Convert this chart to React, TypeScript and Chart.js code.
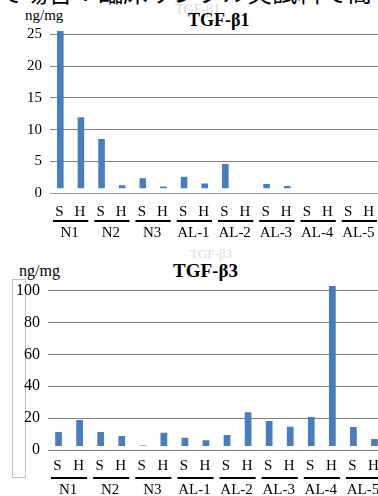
import React, { useEffect, useRef } from "react";
import { Chart, registerables } from "chart.js";

Chart.register(...registerables);

const groups = ["N1", "N2", "N3", "AL-1", "AL-2", "AL-3", "AL-4", "AL-5"];
const subLabels = ["S", "H"];
const tgfb1Values = [25.5, 11.95, 8.55, 1.25, 2.35, 1.05, 2.6, 1.55, 4.6, null, 1.45, 1.15, null, null, null, null];
const tgfb3Values = [11.3, 18.8, 11.3, 8.8, 2.8, 10.9, 7.7, 6.1, 9.4, 23.7, 18.2, 14.6, 20.7, 103, 14.4, 6.9];
const tgfb1Base = 0.8;
const tgfb3Base = 2.5;
const tgfb1Ticks = [0, 5, 10, 15, 20, 25];
const tgfb3Ticks = [0, 20, 40, 60, 80, 100];

const labels = groups.flatMap((g) => subLabels.map((s) => `${g} ${s}`));

const serif = "'Liberation Serif', 'Times New Roman', 'DejaVu Serif', serif";

type Cfg = {
  values: (number | null)[];
  base: number;
  max: number;
  step: number;
  width: number;
  height: number;
  padTop: number;
  padBottom: number;
  yWidth: number;
  tickSize: number;
  subY: number;
  lineY: number;
  groupY: number;
  zeroColor: string;
};

function makeLabelPlugin(cfg: Cfg) {
  return {
    id: "groupLabels",
    afterDraw(chart: any) {
      const ctx = chart.ctx;
      const xs = chart.scales.x;
      const half = (xs.getPixelForValue(1) - xs.getPixelForValue(0)) / 2;
      ctx.save();
      ctx.fillStyle = "#000";
      ctx.strokeStyle = "#000";
      ctx.font = `15px ${serif}`;
      ctx.textAlign = "center";
      ctx.textBaseline = "middle";
      labels.forEach((_, i) => {
        const x = xs.getPixelForValue(i) - 1;
        ctx.fillText(subLabels[i % 2], x, cfg.subY);
      });
      ctx.lineWidth = 2;
      groups.forEach((g, gi) => {
        const l = xs.getPixelForValue(gi * 2) - half + 3;
        const r = xs.getPixelForValue(gi * 2 + 1) + half - 3;
        ctx.beginPath();
        ctx.moveTo(l, cfg.lineY);
        ctx.lineTo(r, cfg.lineY);
        ctx.stroke();
        ctx.fillText(g, (l + r) / 2 - 1, cfg.groupY);
      });
      ctx.restore();
    },
  };
}

function BarPanel({ cfg, style }: { cfg: Cfg; style: React.CSSProperties }) {
  const ref = useRef<HTMLCanvasElement>(null);
  useEffect(() => {
    if (!ref.current) return;
    const chart = new Chart(ref.current, {
      type: "bar",
      data: {
        labels,
        datasets: [
          {
            data: cfg.values.map((v) => (v == null ? null : [cfg.base, v])) as any,
            backgroundColor: "#4a7dbd",
            borderWidth: 0,
            barPercentage: 0.32,
            categoryPercentage: 1,
          },
        ],
      },
      options: {
        animation: false,
        responsive: false,
        devicePixelRatio: 1,
        layout: { padding: { top: cfg.padTop, bottom: cfg.padBottom, left: 0, right: 0 } },
        plugins: { legend: { display: false }, tooltip: { enabled: false }, title: { display: false } },
        scales: {
          x: { display: false, offset: true },
          y: {
            min: 0,
            max: cfg.max,
            afterFit: (s: any) => {
              s.width = cfg.yWidth;
            },
            border: { display: false },
            grid: {
              drawTicks: false,
              color: (c: any) => (c.tick && c.tick.value === 0 ? cfg.zeroColor : "#808080"),
              lineWidth: 1,
            },
            ticks: {
              stepSize: cfg.step,
              includeBounds: false,
              padding: 8,
              color: "#000",
              font: { family: serif, size: cfg.tickSize },
            },
          },
        },
      },
      plugins: [makeLabelPlugin(cfg)],
    });
    return () => chart.destroy();
  }, []);
  return (
    <canvas
      ref={ref}
      width={cfg.width}
      height={cfg.height}
      style={{ position: "absolute", width: cfg.width, height: cfg.height, ...style }}
    />
  );
}

const topCfg: Cfg = {
  values: tgfb1Values,
  base: tgfb1Base,
  max: 26,
  step: tgfb1Ticks[1] - tgfb1Ticks[0],
  width: 380,
  height: 245,
  padTop: 27.9,
  padBottom: 51.7,
  yWidth: 50,
  tickSize: 15,
  subY: 212,
  lineY: 221,
  groupY: 233,
  zeroColor: "#a0a0a0",
};

const bottomCfg: Cfg = {
  values: tgfb3Values,
  base: tgfb3Base,
  max: 104,
  step: tgfb3Ticks[1] - tgfb3Ticks[0],
  width: 385,
  height: 256,
  padTop: 44.3,
  padBottom: 46,
  yWidth: 48,
  tickSize: 16,
  subY: 226,
  lineY: 238,
  groupY: 250,
  zeroColor: "#808080",
};

export default function App() {
  return (
    <div
      style={{
        position: "absolute",
        left: 0,
        top: 0,
        width: 378,
        height: 496,
        overflow: "hidden",
        background: "#fff",
      }}
    >
      <div
        style={{
          position: "absolute",
          left: -2,
          top: -21,
          fontFamily: "'Noto Sans CJK JP'",
          fontSize: 25,
          lineHeight: "25px",
          whiteSpace: "nowrap",
          color: "#000",
        }}
      >
        で場合：臨床サンプル実試料で高
      </div>
      <div style={{ position: "absolute", left: 175, top: 2, fontFamily: serif, fontSize: 14, color: "#dadada" }}>
        TGF-β1
      </div>
      <div style={{ position: "absolute", left: 25, top: 7, fontFamily: serif, fontSize: 15, color: "#000" }}>ng/mg</div>
      <div style={{ position: "absolute", left: 188, top: 10, fontFamily: serif, fontSize: 18, fontWeight: "bold", color: "#000" }}>
        TGF-β1
      </div>
      <BarPanel cfg={topCfg} style={{ left: 0, top: 0 }} />

      <div style={{ position: "absolute", left: 190, top: 246, fontFamily: serif, fontSize: 13, color: "#dadada" }}>
        TGF-β3
      </div>
      <div style={{ position: "absolute", left: 19, top: 262, fontFamily: serif, fontSize: 16, color: "#000" }}>ng/mg</div>
      <div style={{ position: "absolute", left: 173, top: 260, fontFamily: serif, fontSize: 19, fontWeight: "bold", color: "#000" }}>
        TGF-β3
      </div>
      <div
        style={{
          position: "absolute",
          left: 12,
          top: 279,
          width: 12,
          height: 197,
          border: "1px solid #bdbdbd",
        }}
      />
      <BarPanel cfg={bottomCfg} style={{ left: 0, top: 240 }} />
    </div>
  );
}
